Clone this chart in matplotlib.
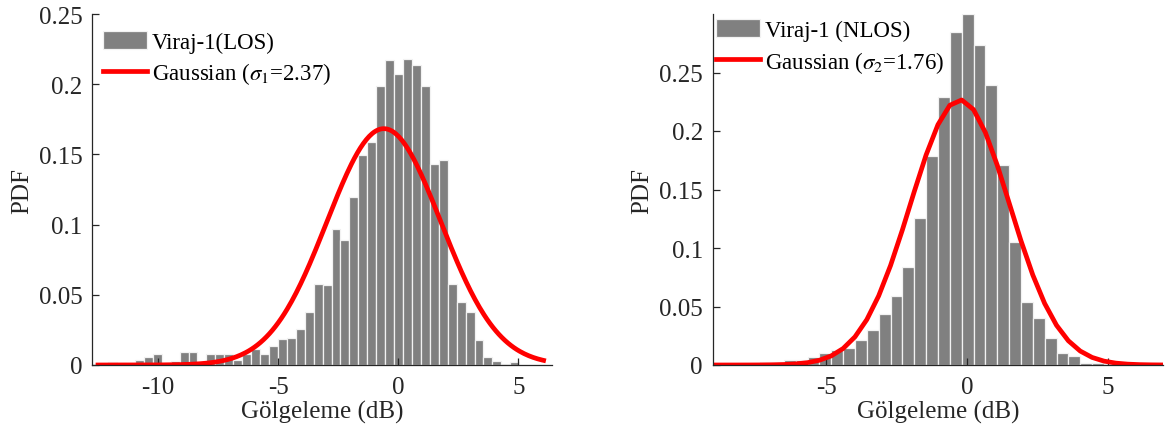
import numpy as np
import matplotlib
matplotlib.use("Agg")
import matplotlib.pyplot as plt
from matplotlib.ticker import FuncFormatter

plt.rcParams['font.family'] = ['Liberation Serif', 'DejaVu Serif']
plt.rcParams['mathtext.fontset'] = 'stix'
plt.rcParams['axes.unicode_minus'] = False

# ---- Data: left panel (Viraj-1 LOS) ----
los_bin_start = -12.45
los_bin_width = 0.372
los_pdf = [0.0008, 0.0019, 0.0017, 0.0006, 0.0038, 0.0057, 0.0079, 0.0005,
           0.0029, 0.0090, 0.0093, 0.0006, 0.0079, 0.0081, 0.0076, 0.0036,
           0.0076, 0.0112, 0.0079, 0.0138, 0.0183, 0.0193, 0.0257, 0.0381,
           0.0576, 0.0571, 0.0971, 0.0893, 0.1200, 0.1495, 0.1586, 0.1986,
           0.2169, 0.2071, 0.2181, 0.2138, 0.1988, 0.1431, 0.1459, 0.0576,
           0.0452, 0.0381, 0.0181, 0.0057, 0.0029, 0.0009, 0.0021]
los_mu, los_sigma = -0.6, 2.37
los_curve_range = (-12.5, 6.05)
los_xticks = [-10, -5, 0, 5]
los_yticks = [0, 0.05, 0.1, 0.15, 0.2, 0.25]

# ---- Data: right panel (Viraj-1 NLOS) ----
nlos_bin_start = -9.03
nlos_bin_width = 0.421
nlos_pdf = [0.0003, 0.0005, 0.0008, 0.0012, 0.0023, 0.0028, 0.0040, 0.0046,
            0.0066, 0.0103, 0.0128, 0.0142, 0.0214, 0.0299, 0.0433, 0.0593,
            0.0838, 0.1256, 0.1790, 0.2288, 0.2844, 0.3000, 0.2735, 0.2393,
            0.1710, 0.1049, 0.0541, 0.0405, 0.0228, 0.0103, 0.0080, 0.0020,
            0.0015, 0.0008, 0.0004, 0.0002, 0.0000, 0.0003]
nlos_mu, nlos_sigma = -0.25, 1.76
nlos_xticks = [-5, 0, 5]
nlos_yticks = [0, 0.05, 0.1, 0.15, 0.2, 0.25]

label_los = 'Viraj-1(LOS)'
label_nlos = 'Viraj-1 (NLOS)'
label_g1 = r'Gaussian ($\sigma_1$=2.37)'
label_g2 = r'Gaussian ($\sigma_2$=1.76)'
xlabel = 'Gölgeleme (dB)'
ylabel = 'PDF'

FS = 18
LFS = 16.5
BAR_C = '#808080'
EDGE_C = '#f2f2f2'
AX_C = '#262626'


def gauss(x, mu, s):
    return np.exp(-0.5 * ((x - mu) / s) ** 2) / (s * np.sqrt(2 * np.pi))


fig = plt.figure(figsize=(11.65, 4.39), dpi=100)
ax1 = fig.add_axes([92 / 1165, 73 / 439, 460 / 1165, 351 / 439])
ax2 = fig.add_axes([712.7 / 1165, 73 / 439, 450.5 / 1165, 351 / 439])


def style(ax, xticks, yticks):
    for s in ['top', 'right']:
        ax.spines[s].set_visible(False)
    for s in ['left', 'bottom']:
        ax.spines[s].set_color(AX_C)
        ax.spines[s].set_linewidth(0.9)
    ax.set_xticks(xticks)
    ax.set_yticks(yticks)
    ax.yaxis.set_major_formatter(FuncFormatter(lambda v, p: f'{v:g}'))
    ax.tick_params(direction='in', length=5, width=0.9, colors=AX_C,
                   labelsize=FS, labelcolor=AX_C)
    ax.tick_params(axis='x', pad=8)
    ax.tick_params(axis='y', pad=7)
    ax.set_xlabel(xlabel, fontsize=FS, color=AX_C, labelpad=1)
    ax.set_ylabel(ylabel, fontsize=FS, color=AX_C, labelpad=4)


# Left panel
n1 = len(los_pdf)
c1 = los_bin_start + los_bin_width * (np.arange(n1) + 0.5)
b1 = ax1.bar(c1, los_pdf, width=los_bin_width, color=BAR_C, edgecolor=EDGE_C,
             linewidth=0.9, label=label_los)
x1 = np.linspace(los_curve_range[0], los_curve_range[1], 300)
l1, = ax1.plot(x1, gauss(x1, los_mu, los_sigma), color='red', lw=3.4,
               label=label_g1)
ax1.set_xlim(-12.75, 6.4)
ax1.set_ylim(0, 0.25)
style(ax1, los_xticks, los_yticks)
ax1.legend([b1, l1], [label_los, label_g1], loc='upper left',
           bbox_to_anchor=(0.0, 0.985), frameon=False,
           fontsize=LFS, handlelength=1.9, handleheight=0.85, handletextpad=0.22,
           labelspacing=0.33, borderaxespad=0.3, borderpad=0.2)

# Right panel
n2 = len(nlos_pdf)
edges2 = nlos_bin_start + nlos_bin_width * np.arange(n2 + 1)
c2 = edges2[:-1] + nlos_bin_width / 2
b2 = ax2.bar(c2, nlos_pdf, width=nlos_bin_width, color=BAR_C, edgecolor=EDGE_C,
             linewidth=0.9, label=label_nlos)
l2, = ax2.plot(edges2, gauss(edges2, nlos_mu, nlos_sigma), color='red', lw=3.4,
               label=label_g2)
ax2.set_xlim(edges2[0], edges2[-1])
ax2.set_ylim(0, 0.3)
style(ax2, nlos_xticks, nlos_yticks)
ax2.legend([b2, l2], [label_nlos, label_g2], loc='upper left',
           bbox_to_anchor=(0.0, 0.995), frameon=False,
           fontsize=LFS, handlelength=1.9, handleheight=0.85, handletextpad=0.22,
           labelspacing=0.32, borderaxespad=0.05, borderpad=0.1)

fig.savefig('out.png', dpi=100)
